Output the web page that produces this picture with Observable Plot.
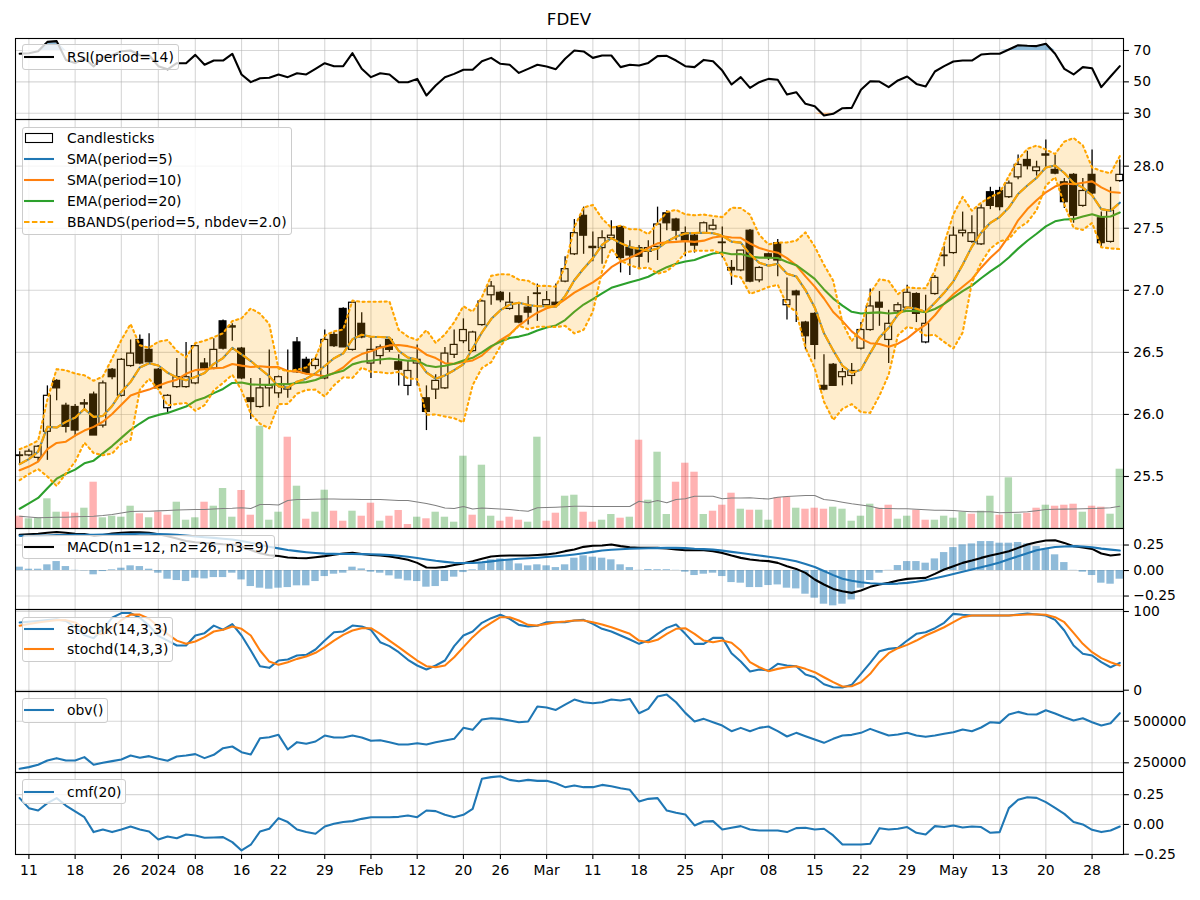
<!DOCTYPE html>
<html><head><meta charset="utf-8">
<script src="https://cdn.jsdelivr.net/npm/d3@7"></script>
<script src="https://cdn.jsdelivr.net/npm/@observablehq/plot@0.6"></script>
<style>
body{margin:0;background:#fff;font-family:"DejaVu Sans",sans-serif;}
#wrap{position:relative;width:1200px;height:900px;overflow:hidden;background:#fff;}
#wrap svg{position:absolute;left:0;}
.legend{position:absolute;background:rgba(255,255,255,0.8);border:1px solid #cccccc;border-radius:3px;box-sizing:border-box;font-family:"DejaVu Sans",sans-serif;font-size:13.89px;color:#000;}
.legend .it{position:absolute;left:44px;white-space:nowrap;line-height:16px;}
.legend svg.s{position:absolute;left:4px;}
.title{position:absolute;left:15px;width:1108px;top:11px;text-align:center;font-size:16.67px;line-height:18px;font-family:"DejaVu Sans",sans-serif;}
</style></head>
<body><div id="wrap"><div class="title">FDEV</div></div>
<script>
// ---------- data ----------
const dates = ["2023-12-08","2023-12-11","2023-12-12","2023-12-13","2023-12-14","2023-12-15","2023-12-18","2023-12-19","2023-12-20","2023-12-21",
"2023-12-22","2023-12-26","2023-12-27","2023-12-28","2023-12-29","2024-01-02","2024-01-03","2024-01-04","2024-01-05","2024-01-08",
"2024-01-09","2024-01-10","2024-01-11","2024-01-12","2024-01-16","2024-01-17","2024-01-18","2024-01-19","2024-01-22","2024-01-23",
"2024-01-24","2024-01-25","2024-01-26","2024-01-29","2024-01-30","2024-01-31","2024-02-01","2024-02-02","2024-02-05","2024-02-06",
"2024-02-07","2024-02-08","2024-02-09","2024-02-12","2024-02-13","2024-02-14","2024-02-15","2024-02-16","2024-02-20","2024-02-21",
"2024-02-22","2024-02-23","2024-02-26","2024-02-27","2024-02-28","2024-02-29","2024-03-01","2024-03-04","2024-03-05","2024-03-06",
"2024-03-07","2024-03-08","2024-03-11","2024-03-12","2024-03-13","2024-03-14","2024-03-15","2024-03-18","2024-03-19","2024-03-20",
"2024-03-21","2024-03-22","2024-03-25","2024-03-26","2024-03-27","2024-03-28","2024-04-01","2024-04-02","2024-04-03","2024-04-04",
"2024-04-05","2024-04-08","2024-04-09","2024-04-10","2024-04-11","2024-04-12","2024-04-15","2024-04-16","2024-04-17","2024-04-18",
"2024-04-19","2024-04-22","2024-04-23","2024-04-24","2024-04-25","2024-04-26","2024-04-29","2024-04-30","2024-05-01","2024-05-02",
"2024-05-03","2024-05-06","2024-05-07","2024-05-08","2024-05-09","2024-05-10","2024-05-13","2024-05-14","2024-05-15","2024-05-16",
"2024-05-17","2024-05-20","2024-05-21","2024-05-22","2024-05-23","2024-05-24","2024-05-28","2024-05-29","2024-05-30","2024-05-31"];

const open = [25.665,25.67,25.65,25.86,26.27,26.07,26.06,26.08,26.16,25.91,
26.36,26.15,26.39,26.60,26.52,26.36,26.05,26.22,26.22,26.25,
26.41,26.37,26.75,26.70,26.53,26.13,26.06,26.21,26.17,26.20,
26.58,26.44,26.39,26.29,26.64,26.85,26.52,26.73,26.41,26.47,
26.60,26.42,26.23,26.41,26.13,26.20,26.21,26.48,26.59,26.51,
26.72,26.96,26.98,26.85,26.79,26.86,26.97,26.88,26.90,27.07,
27.29,27.60,27.35,27.34,27.42,27.51,27.34,27.34,27.31,27.35,
27.62,27.57,27.46,27.44,27.46,27.49,27.385,27.18,27.16,27.48,
27.08,27.29,27.38,26.88,26.99,26.74,26.81,26.23,26.40,26.30,
26.31,26.53,26.68,26.90,26.60,26.83,26.86,26.97,26.58,26.97,
27.275,27.30,27.46,27.39,27.37,27.79,27.80,27.75,27.91,28.05,
27.96,28.095,27.97,27.87,27.93,27.68,27.93,27.58,27.39,27.88];

const high = [25.70,25.72,25.75,26.23,26.28,26.09,26.08,26.12,26.18,26.27,
26.37,26.45,26.60,26.64,26.65,26.37,26.16,26.45,26.58,26.56,
26.45,26.61,26.76,26.73,26.54,26.29,26.29,26.52,26.31,26.52,
26.62,26.46,26.46,26.68,26.66,26.86,26.91,26.82,26.62,26.56,
26.62,26.48,26.43,26.56,26.23,26.32,26.54,26.68,26.77,26.67,
26.92,27.07,26.99,26.98,26.90,26.95,27.05,26.99,27.05,27.27,
27.57,27.67,27.47,27.48,27.56,27.52,27.40,27.36,27.40,27.67,
27.64,27.58,27.51,27.46,27.55,27.57,27.51,27.24,27.32,27.49,
27.19,27.30,27.41,27.10,27.00,26.75,26.82,26.48,26.41,26.37,
26.41,26.74,27.01,26.99,26.84,26.90,27.04,26.98,26.96,27.12,
27.35,27.51,27.63,27.60,27.69,27.83,27.83,27.88,28.09,28.12,
28.04,28.21,28.09,27.90,27.94,27.90,28.13,27.63,27.83,28.05];

const low = [25.59,25.66,25.62,25.63,26.11,25.85,25.82,26.04,25.83,25.89,
26.28,26.14,26.38,26.40,26.41,26.20,26.01,26.21,26.21,26.24,
26.36,26.36,26.52,26.59,26.28,25.96,26.05,26.06,26.13,26.13,
26.33,26.32,26.36,26.28,26.54,26.54,26.51,26.61,26.29,26.40,
26.50,26.23,26.15,26.23,25.87,26.12,26.20,26.45,26.57,26.50,
26.71,26.88,26.90,26.84,26.73,26.72,26.75,26.87,26.89,27.06,
27.28,27.29,27.23,27.21,27.41,27.14,27.12,27.17,27.22,27.24,
27.48,27.40,27.27,27.30,27.45,27.48,27.26,27.04,27.15,27.06,
27.06,27.24,27.11,26.76,26.74,26.52,26.44,26.19,26.23,26.23,
26.24,26.52,26.67,26.71,26.41,26.82,26.85,26.74,26.57,26.96,
27.19,27.29,27.43,27.38,27.36,27.65,27.64,27.74,27.89,27.97,
27.92,27.99,27.93,27.66,27.54,27.67,27.77,27.35,27.38,27.87];

const close = [25.67,25.70,25.74,26.15,26.21,25.90,25.87,26.09,25.83,26.25,
26.30,26.44,26.49,26.41,26.42,26.21,26.15,26.30,26.30,26.55,
26.37,26.52,26.53,26.71,26.29,26.10,26.21,26.23,26.30,26.24,
26.34,26.33,26.44,26.60,26.55,26.54,26.90,26.62,26.52,26.54,
26.52,26.36,26.35,26.44,26.02,26.27,26.49,26.56,26.68,26.66,
26.91,27.03,26.92,26.90,26.74,26.82,26.975,26.92,26.88,27.17,
27.46,27.44,27.34,27.42,27.44,27.26,27.28,27.27,27.34,27.53,
27.54,27.48,27.40,27.36,27.54,27.52,27.38,27.16,27.32,27.07,
27.18,27.26,27.24,26.92,26.96,26.63,26.56,26.20,26.23,26.34,
26.35,26.68,26.87,26.86,26.73,26.88,26.98,26.81,26.73,27.10,
27.28,27.44,27.48,27.46,27.66,27.68,27.67,27.86,28.01,28.00,
27.99,28.085,27.94,27.71,27.60,27.80,27.78,27.38,27.64,27.93];

// volume in thousands of shares
const volumeK = [12.3,9.7,10.7,29.7,16.3,16.3,15.3,20.3,46.3,10.7,
12.3,11.3,22.3,14.7,10.7,16.3,13.3,26.3,8.3,10.7,
26.3,22.3,40,11.3,38,13.3,102.3,8.3,16.3,91.3,
42.3,9.3,16.3,38.3,17.3,7.3,17.3,12.3,25.3,7.3,
12.3,18,4,11.3,9.7,16.3,11.3,6.3,72.3,13.3,
63.3,12.3,7.3,11.3,8.3,6.3,91.3,7.3,15.3,32.3,
33.3,16.3,6.3,8.3,14,10.3,11.3,88.3,28.3,76.3,
14,46.3,65.3,56.3,14,17.3,23.3,35.3,19.3,18.3,
18.3,8.3,31,31.3,20.3,19.3,20.3,19.3,21.3,19.3,
7.3,12.3,24.3,20.3,23.3,9.3,12.3,18.3,8.3,8.3,
12.3,10.3,16.3,14.3,17.3,32.3,13.3,50.7,14.3,15.3,
20.3,23.3,22.3,23.3,24.3,16.3,22.3,21.3,14.3,59.3];

const volumeMAK = [12.3,11.5,10.7,11,11.3,11.3,11.8,12,12.3,13,
14,15.5,17,17.3,17.3,17.6,18,18.5,18.8,19,
19,19.5,20,20.2,20.7,20,24,24,23.5,28,
29,29,29.3,29.5,29.5,29.3,29.3,29,29,29,
28.5,28,28,26.5,25,23,20.5,20,22,19.5,
20.5,20,19.5,19,18,17.3,20.7,21,21.3,21.8,
22.3,22.3,22,22,22,22,22,27.3,25.7,28,
25.7,29,29.7,32.3,32.3,32.3,29.7,30.5,30.5,30.7,
30,29.5,31.3,32,32.5,33,33,29,28,26.3,
24.7,23.5,22.3,20,20,19.8,19.7,19.3,18.8,18.3,
18.2,18,17.3,16.7,16.7,16.7,15.7,16,16.3,16.7,
17.8,19,19.2,19.4,19.5,19.7,20,20.3,20.7,22.3];

// warm-up values of the moving averages (window not yet full inside the shown range)
const sma5Head = [25.60,25.64,25.70,25.90];
const bbUpHead = [25.72,25.75,25.79,26.12];
const bbLoHead = [25.47,25.52,25.56,25.50];
const sma10Head = [25.55,25.58,25.62,25.72,25.77,25.78,25.83,25.87,25.90];
const ema20Start = 25.24;

const rsi = [67.9,68.3,69.5,75.5,76.0,64,62,65,59.8,66,
67,69.5,70,67,67,60,58,61.9,61.9,67.2,
60.9,63.6,63.6,67.9,54.7,49.8,52.3,52.6,54.7,53.0,
55.5,54.7,58.3,61.9,60.0,60.0,68.3,58.3,53.0,55.5,
54.7,49.8,49.8,51.9,41.3,47.7,53.0,55.1,57.7,57.7,
63.2,65.3,61.5,60.9,55.7,58.3,60.9,59.8,58.1,64.7,
70.0,69.4,65.3,66.8,66.8,59.4,60.9,60.4,62.1,66.4,
66.6,63.6,60.0,59.4,64.0,63.2,57.2,48.3,53.0,46.2,
49.8,51.9,51.3,41.9,43.4,36.0,34.5,28.5,29.6,33.2,
33.4,44.9,50.4,50.2,46.6,50.9,53.4,48.7,47.0,56.6,
60.0,63.0,63.6,63.6,67.4,67.9,67.9,70.6,73.4,73.0,
72.8,74.3,67.9,58.3,54.7,59.4,58.7,46.6,53.4,60.0];

const macdLine = [.35,.355,.36,.37,.378,.37,.36,.358,.34,.348,
.363,.37,.376,.375,.369,.355,.337,.315,.29,.278,
.27,.265,.258,.255,.235,.2,.17,.15,.142,.128,
.122,.12,.13,.141,.155,.167,.175,.162,.152,.147,
.138,.122,.105,.075,.03,.028,.036,.055,.07,.09,
.115,.138,.145,.147,.147,.148,.152,.158,.17,.19,
.206,.232,.243,.245,.255,.239,.229,.222,.222,.222,
.216,.206,.199,.199,.199,.19,.173,.147,.124,.108,
.098,.092,.075,.042,.016,-.023,-.088,-.137,-.18,-.203,
-.219,-.196,-.16,-.137,-.121,-.098,-.082,-.075,-.072,-.033,
.01,.042,.075,.098,.124,.147,.167,.19,.222,.255,
.278,.294,.297,.271,.239,.225,.212,.167,.147,.157];

const macdSignal = [.340,.341,.342,.344,.347,.349,.350,.351,.351,.352,
.353,.355,.357,.360,.360,.358,.355,.350,.343,.335,
.327,.320,.312,.305,.290,.272,.252,.233,.217,.202,
.190,.180,.172,.166,.163,.162,.162,.161,.159,.156,
.152,.145,.135,.122,.108,.095,.085,.077,.073,.074,
.080,.090,.100,.108,.115,.120,.125,.132,.140,.148,
.158,.170,.183,.196,.203,.209,.213,.216,.219,.220,
.222,.222,.220,.213,.210,.205,.195,.183,.172,.160,
.148,.135,.122,.108,.090,.065,.035,-.005,-.045,-.080,
-.100,-.115,-.125,-.130,-.131,-.128,-.121,-.110,-.095,-.076,
-.056,-.035,-.013,.010,.033,.055,.078,.110,.140,.170,
.198,.215,.230,.236,.239,.236,.228,.215,.205,.196];

const macdHist = [.033,.013,.013,.056,.088,.039,.002,-.003,-.042,-.01,
.007,.023,.046,.039,.013,-.026,-.085,-.098,-.108,-.075,
-.082,-.069,-.069,-.026,-.092,-.157,-.173,-.183,-.173,-.167,
-.150,-.150,-.108,-.059,-.036,-.026,.033,.016,-.016,-.026,
-.052,-.085,-.101,-.108,-.163,-.157,-.108,-.065,-.020,.007,
.065,.105,.114,.105,.065,.046,.056,.046,.029,.056,
.121,.144,.131,.121,.105,.056,.029,.002,.01,.008,
.008,.002,-.016,-.049,-.036,-.026,-.059,-.118,-.124,-.167,
-.167,-.147,-.141,-.173,-.18,-.232,-.271,-.330,-.346,-.330,
-.288,-.173,-.098,-.026,.002,.049,.088,.088,.072,.114,
.176,.225,.252,.261,.284,.284,.268,.268,.275,.261,
.235,.209,.154,.078,.002,-.016,-.049,-.124,-.134,-.085];

const stochK = [86,87,88,89,90,88,80,70,66,78,
92,98,98,92,82,69,63,56.8,56.8,69.5,
72.5,82,77,84,69.5,50.4,30.5,28.4,37.7,39,
44,45,51.7,63.1,73.7,74.6,82.2,81,76.7,61,
56,48.3,38.6,31.4,26.3,31.4,37.7,56,69.5,74.6,
85.6,91.5,95.8,90.7,83,81,82,86.4,86.4,86.4,
88.6,89.4,84.3,78,74.6,69.5,64.4,58.9,63.1,71.6,
79.2,83.5,71.6,58.9,58.9,66.5,66.5,47,36.4,23.7,
26.3,25,33.5,31.4,30.5,19.9,16.5,7.6,3.8,3.4,
6.8,20.8,34.7,49.6,52.5,53.8,63.1,71.6,73.7,78.8,
85.6,97,95.8,94.9,94.9,94.9,94.9,94.9,96.2,97.5,
96.2,94.9,89.4,75.8,56.8,46.2,44.1,35.6,29.2,34.7];

const stochD = [82,84,86,87.5,89,89,86,79,72,71,
79,89,96,96,90.7,81,71.3,63,58.9,61.9,
67.4,74.6,76.7,81,78,69.5,50.4,36.4,32.2,35.6,
39.8,42.8,47.5,54.7,63.1,70.3,75.8,78.8,78.8,71.6,
63,54.7,46.2,37.7,30.5,29.2,31.4,41.9,54.7,67.4,
78,85.6,92.8,92.8,88.6,83,82.2,84.3,86.4,87.3,
88.6,88.6,86.4,83.5,80,75.8,71.6,63.1,61,64,
71.6,78,78.8,71.6,63.1,61,63.1,60.2,50.4,35.6,
29.2,24.2,27.1,29.2,30.5,27.1,22.9,16.5,10.2,4.7,
5.1,10.2,20.8,35.6,47,53.4,57.6,63.1,69.5,74.6,
80,86.4,92.8,94.9,94.9,94.9,94.9,94.9,95.5,96.2,
96.6,95.8,92.8,86.4,72.9,58.9,48.3,40.7,35.6,31.4];

const obv = [214000,224000,238000,264000,278000,264000,264000,284000,238000,250000,
260000,270000,294000,280000,290000,274000,262000,288000,294000,302000,
278000,298000,338000,348000,314000,300000,398000,404000,418000,330000,
374000,364000,378000,414000,402000,402000,414000,402000,382000,386000,
374000,360000,360000,368000,360000,374000,384000,394000,460000,448000,
510000,518000,514000,504000,494000,498000,588000,582000,568000,600000,
630000,614000,608000,614000,630000,624000,634000,548000,574000,648000,
660000,614000,550000,498000,514000,494000,474000,440000,460000,440000,
460000,468000,440000,408000,430000,410000,390000,370000,394000,414000,
418000,430000,454000,434000,414000,420000,430000,414000,406000,414000,
424000,434000,450000,440000,462000,494000,490000,540000,556000,542000,
540000,566000,546000,524000,504000,518000,494000,474000,488000,548000];

const cmf = [.221,.137,.117,.179,.221,.159,.109,.061,-.064,-.042,
-.064,-.042,-.017,-.042,-.059,-.126,-.101,-.115,-.084,-.092,
-.112,-.109,-.106,-.148,-.218,-.170,-.059,-.036,.053,.020,
-.042,-.064,-.078,-.017,.006,.020,.028,.047,.061,.061,
.061,.064,.075,.061,.117,.112,.081,.061,.081,.131,
.383,.397,.405,.374,.363,.374,.366,.366,.346,.313,
.327,.313,.313,.332,.321,.304,.291,.193,.215,.221,
.117,.098,.084,-.008,.025,.028,-.042,-.028,-.014,-.042,
-.050,-.050,-.050,-.064,-.031,-.028,-.042,-.036,-.092,-.168,
-.168,-.168,-.162,-.031,-.042,-.036,-.022,-.070,-.084,-.014,
-.022,-.008,-.025,-.017,-.022,-.070,-.064,.137,.207,.229,
.223,.187,.140,.089,.020,.000,-.045,-.064,-.050,-.017];

const tickDates = ["2023-12-11","2023-12-18","2023-12-26","2024-01-02","2024-01-08","2024-01-16","2024-01-22","2024-01-29","2024-02-05","2024-02-12","2024-02-20","2024-02-26","2024-03-04","2024-03-11","2024-03-18","2024-03-25","2024-04-01","2024-04-08","2024-04-15","2024-04-22","2024-04-29","2024-05-06","2024-05-13","2024-05-20","2024-05-28"];
const tickLabels = ["11","18","26","2024","08","16","22","29","Feb","12","20","26","Mar","11","18","25","Apr","08","15","22","29","May","13","20","28"];

// ---------- indicators derived from the closes ----------
function rollMean(arr, n, head) {
  return arr.map((_, i) => i < n - 1 ? head[i] : d3.mean(arr.slice(i - n + 1, i + 1)));
}
function rollStd(arr, n) {
  return arr.map((_, i) => {
    if (i < n - 1) return NaN;
    const w = arr.slice(i - n + 1, i + 1), m = d3.mean(w);
    return Math.sqrt(d3.mean(w, v => (v - m) ** 2));
  });
}
const sma5 = rollMean(close, 5, sma5Head);
const sd5 = rollStd(close, 5);
const bbUp = close.map((_, i) => i < 4 ? bbUpHead[i] : sma5[i] + 2 * sd5[i]);
const bbLo = close.map((_, i) => i < 4 ? bbLoHead[i] : sma5[i] - 2 * sd5[i]);
const sma10 = rollMean(close, 10, sma10Head);
const ema20 = [];
close.forEach((c, i) => ema20.push(i === 0 ? ema20Start : ema20[i - 1] + (2 / 21) * (c - ema20[i - 1])));

const rows = dates.map((date, i) => ({
  i, date, open: open[i], high: high[i], low: low[i], close: close[i],
  vol: volumeK[i], volMA: volumeMAK[i], up: i > 0 && close[i] >= close[i - 1],
  sma5: sma5[i], sma10: sma10[i], ema20: ema20[i], bbUp: bbUp[i], bbLo: bbLo[i],
  rsi: rsi[i], macd: macdLine[i], signal: macdSignal[i], hist: macdHist[i],
  k: stochK[i], d: stochD[i], obv: obv[i], cmf: cmf[i]
}));

// ---------- layout ----------
const wrap = document.getElementById("wrap");
const W = 1200, ML = 15, MR = 77;
const LW = 2.08;              // 1.5pt line
const xDomain = [-0.45, 119.4];
const tickIdx = tickDates.map(d => dates.indexOf(d));
const tickText = new Map(tickIdx.map((t, k) => [t, tickLabels[k]]));
const grid = {stroke: "#b0b0b0", strokeOpacity: 0.5, strokeWidth: 1.1};
const BLUE = "#1f77b4", ORANGE = "#ff7f0e", GREEN = "#2ca02c";
const fmt2 = d3.format(".2f");

function addPanel(top, height, yDomain, yTicks, yFmt, marks, o = {}) {
  const mb = o.xAxis ? 40 : 0;
  const svg = Plot.plot({
    width: W, height: height + mb,
    marginLeft: ML, marginRight: MR, marginTop: 0, marginBottom: mb,
    x: {type: "linear", domain: xDomain, axis: o.xAxis ? undefined : null},
    y: {domain: yDomain, axis: yTicks ? undefined : null},
    style: {fontFamily: "'DejaVu Sans', sans-serif", fontSize: "13.89px", background: "transparent", overflow: "visible", color: "black"},
    marks: [
      o.overlay ? null : Plot.gridX({ticks: tickIdx, ...grid}),
      o.overlay ? null : Plot.gridY({ticks: yTicks, ...grid}),
      ...marks,
      o.overlay ? null : Plot.frame({stroke: "black", strokeWidth: 1.1}),
      yTicks ? Plot.axisY({anchor: "right", ticks: yTicks, tickFormat: yFmt, tickSize: 4.9, tickPadding: 4.9, label: null, strokeWidth: 1.1}) : null,
      o.xAxis ? Plot.axisX({anchor: "bottom", ticks: tickIdx, tickFormat: d => tickText.get(d), tickSize: 4.9, tickPadding: 5.5, label: null, strokeWidth: 1.1}) : null
    ]
  });
  svg.style.top = top + "px";
  if (o.overlay) svg.style.pointerEvents = "none";
  wrap.append(svg);
}

// RSI
addPanel(38, 81, [25.98, 77.66], [30, 50, 70], d => String(d), [
  Plot.areaY(rows, {x: "i", y1: 70, y2: d => Math.max(d.rsi, 70), fill: BLUE, fillOpacity: 0.5}),
  Plot.areaY(rows, {x: "i", y1: d => Math.min(d.rsi, 30), y2: 30, fill: ORANGE, fillOpacity: 0.5}),
  Plot.lineY(rows, {x: "i", y: "rsi", stroke: "black", strokeWidth: LW})
]);

// Main candlestick panel
addPanel(119, 409, [25.081, 28.376], [25.5, 26.0, 26.5, 27.0, 27.5, 28.0], d3.format(".1f"), [
  Plot.ruleX(rows, {x: "i", y1: "low", y2: "high", stroke: "black", strokeWidth: 1.3}),
  Plot.rect(rows, {x1: d => d.i - 0.37, x2: d => d.i + 0.37, y1: d => Math.min(d.open, d.close), y2: d => Math.max(d.open, d.close),
    fill: d => d.close >= d.open ? "white" : "black", stroke: "black", strokeWidth: 1.2}),
  Plot.lineY(rows, {x: "i", y: "sma5", stroke: BLUE, strokeWidth: LW}),
  Plot.lineY(rows, {x: "i", y: "sma10", stroke: ORANGE, strokeWidth: LW}),
  Plot.lineY(rows, {x: "i", y: "ema20", stroke: GREEN, strokeWidth: LW}),
  Plot.areaY(rows, {x: "i", y1: "bbLo", y2: "bbUp", fill: "#ffa500", fillOpacity: 0.2}),
  Plot.lineY(rows, {x: "i", y: "bbUp", stroke: "#ffa500", strokeWidth: LW, strokeDasharray: "2.08,3.44"}),
  Plot.lineY(rows, {x: "i", y: "bbLo", stroke: "#ffa500", strokeWidth: LW, strokeDasharray: "2.08,3.44"}),
  Plot.lineY(rows, {x: "i", y: "sma5", stroke: "#ffa500", strokeWidth: LW, strokeDasharray: "7.7,3.3"})
]);
// Volume (twin axis overlay)
addPanel(119, 409, [0, 409], null, null, [
  Plot.rect(rows, {x1: d => d.i - 0.4, x2: d => d.i + 0.4, y1: 0, y2: "vol", fill: d => d.up ? "green" : "red", fillOpacity: 0.3}),
  Plot.lineY(rows, {x: "i", y: "volMA", stroke: "#808080", strokeWidth: 1.1})
], {overlay: true});

// MACD
addPanel(528, 81, [-0.382, 0.412], [-0.25, 0, 0.25], d => fmt2(d), [
  Plot.rect(rows, {x1: d => d.i - 0.4, x2: d => d.i + 0.4, y1: 0, y2: "hist", fill: BLUE, fillOpacity: 0.5}),
  Plot.lineY(rows, {x: "i", y: "macd", stroke: "black", strokeWidth: LW}),
  Plot.lineY(rows, {x: "i", y: "signal", stroke: BLUE, strokeWidth: LW})
]);

// Stochastic
addPanel(609, 82, [-1.65, 102.54], [0, 100], d => String(d), [
  Plot.lineY(rows, {x: "i", y: "k", stroke: BLUE, strokeWidth: LW}),
  Plot.lineY(rows, {x: "i", y: "d", stroke: ORANGE, strokeWidth: LW})
]);

// OBV
addPanel(691, 81, [191700, 678500], [250000, 500000], d => String(d), [
  Plot.lineY(rows, {x: "i", y: "obv", stroke: BLUE, strokeWidth: LW})
]);

// CMF
addPanel(772, 82, [-0.252, 0.436], [-0.25, 0, 0.25], d => fmt2(d), [
  Plot.lineY(rows, {x: "i", y: "cmf", stroke: BLUE, strokeWidth: LW})
], {xAxis: true});

// ---------- legends ----------
function sample(it) {
  if (it.kind === "rect")
    return `<svg class="s" width="34" height="14" style="top:${it.cy - 7}px"><rect x="2.5" y="2.5" width="27" height="9" fill="white" stroke="black" stroke-width="1.1"/></svg>`;
  return `<svg class="s" width="34" height="6" style="top:${it.cy - 3}px"><line x1="1" x2="31" y1="3" y2="3" stroke="${it.color}" stroke-width="${LW}" ${it.dash ? `stroke-dasharray="${it.dash}"` : ""}/></svg>`;
}
function addLegend(left, top, width, height, items) {
  const box = document.createElement("div");
  box.className = "legend";
  Object.assign(box.style, {left: left + "px", top: top + "px", width: width + "px", height: height + "px"});
  box.innerHTML = items.map(it => sample(it) + `<span class="it" style="top:${it.cy - 8}px">${it.label}</span>`).join("");
  wrap.append(box);
}
addLegend(22, 44, 157, 26, [{color: "black", label: "RSI(period=14)", cy: 12}]);
addLegend(22, 127, 270, 108, [
  {kind: "rect", label: "Candlesticks", cy: 10},
  {color: BLUE, label: "SMA(period=5)", cy: 31},
  {color: ORANGE, label: "SMA(period=10)", cy: 52},
  {color: GREEN, label: "EMA(period=20)", cy: 73},
  {color: "#ffa500", dash: "5.5,2.4", label: "BBANDS(period=5, nbdev=2.0)", cy: 94}
]);
addLegend(22, 535, 253, 24, [{color: "black", label: "MACD(n1=12, n2=26, n3=9)", cy: 11}]);
addLegend(22, 617, 151, 45, [
  {color: BLUE, label: "stochk(14,3,3)", cy: 11},
  {color: ORANGE, label: "stochd(14,3,3)", cy: 31}
]);
addLegend(22, 698, 86, 25, [{color: BLUE, label: "obv()", cy: 11}]);
addLegend(22, 779, 104, 25, [{color: BLUE, label: "cmf(20)", cy: 12}]);
</script>
</body></html>
